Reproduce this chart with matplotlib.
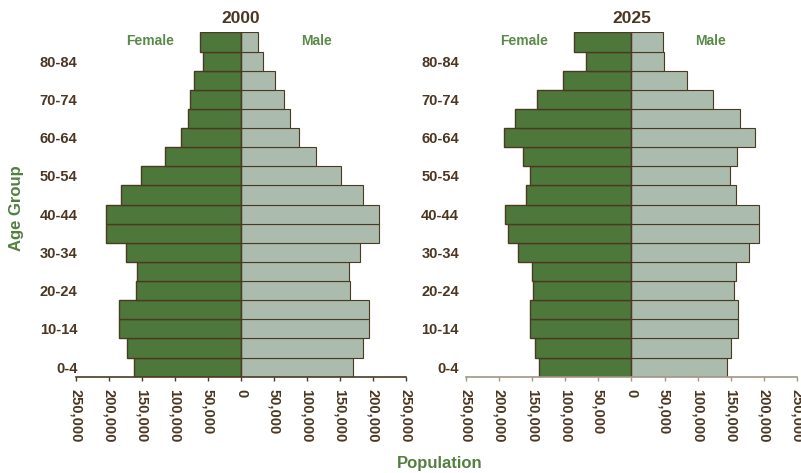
import matplotlib
matplotlib.use("Agg")
import matplotlib.pyplot as plt
from matplotlib.ticker import FuncFormatter

# Age bands, youngest first
age_groups = ["0-4", "5-9", "10-14", "15-19", "20-24", "25-29", "30-34", "35-39", "40-44",
              "45-49", "50-54", "55-59", "60-64", "65-69", "70-74", "75-79", "80-84", "85+"]

female_2000 = [162000, 172500, 184500, 184500, 159500, 157500, 175000, 204000, 204000,
               182000, 151000, 115000, 90500, 80000, 77000, 70500, 57000, 61500]
male_2000 = [169000, 185000, 194000, 194000, 165000, 163000, 180000, 209500, 209500,
             185000, 151500, 114000, 87500, 74000, 65000, 52000, 34000, 25000]

female_2025 = [140000, 146500, 153500, 153500, 149000, 151000, 171000, 187000, 191000,
               159500, 153000, 164000, 193000, 176000, 142000, 104000, 68000, 86500]
male_2025 = [144500, 151000, 160500, 160500, 155500, 157500, 178000, 193500, 193500,
             157500, 149000, 159500, 187000, 164500, 124000, 84500, 48500, 47000]

FEMALE_COLOR = "#4e773c"
MALE_COLOR = "#abbbad"
EDGE_COLOR = "#4b3a22"
TEXT_BROWN = "#4a3621"
LABEL_GREEN = "#5a8a48"

plt.rcParams["font.family"] = ["Liberation Sans", "DejaVu Sans"]


def draw_pyramid(ax, female, male, year, spine_color, label_pad):
    pos = list(range(len(age_groups)))
    ax.barh(pos, [-v for v in female], height=1.0, color=FEMALE_COLOR,
            edgecolor=EDGE_COLOR, linewidth=1.0)
    ax.barh(pos, male, height=1.0, color=MALE_COLOR,
            edgecolor=EDGE_COLOR, linewidth=0.8)
    ax.axvline(0, color=EDGE_COLOR, linewidth=1.0)

    ax.set_xlim(-250000, 250000)
    ax.set_ylim(-0.5, len(age_groups) - 0.5)
    ax.set_xticks(range(-250000, 250001, 50000))
    ax.xaxis.set_major_formatter(FuncFormatter(lambda v, _: f"{abs(int(v)):,}"))
    for lbl in ax.get_xticklabels():
        lbl.set_rotation(270)
        lbl.set_fontweight("bold")

    ax.set_yticks(pos[::2])
    ax.set_yticklabels(age_groups[::2], fontweight="bold")

    for side in ["top", "right", "left"]:
        ax.spines[side].set_visible(False)
    ax.spines["bottom"].set_color(spine_color)
    ax.spines["bottom"].set_linewidth(1.2)
    ax.tick_params(axis="x", colors=spine_color, labelcolor=TEXT_BROWN, length=3,
                   width=1, pad=6, labelsize=10.5)
    ax.tick_params(axis="y", length=0, labelcolor=TEXT_BROWN, pad=label_pad,
                   labelsize=10.5)

    ax.set_title(year, fontsize=12.5, fontweight="bold", color=TEXT_BROWN, pad=7)


fig = plt.figure(figsize=(8.01, 4.73), dpi=100)
ax_left = fig.add_axes([0.0949, 0.2035, 0.412, 0.728])
ax_right = fig.add_axes([0.5818, 0.2035, 0.413, 0.728])

draw_pyramid(ax_left, female_2000, male_2000, "2000", EDGE_COLOR, -1)
draw_pyramid(ax_right, female_2025, male_2025, "2025", "#a39585", 5)

# Sex labels above each pyramid
for x, text in [(150, "Female"), (316, "Male"), (524, "Female"), (711, "Male")]:
    fig.text(x / 801, 1 - 41 / 473, text, ha="center", va="center", fontsize=10,
             fontweight="bold", color=LABEL_GREEN)

fig.text(440 / 801, 1 - 463 / 473, "Population", ha="center", va="center",
         fontsize=12, fontweight="bold", color="#528040")
fig.text(17 / 801, 1 - 208 / 473, "Age Group", ha="center", va="center",
         fontsize=12, fontweight="bold", color="#528040", rotation=90)

fig.savefig("out.png", dpi=100)
